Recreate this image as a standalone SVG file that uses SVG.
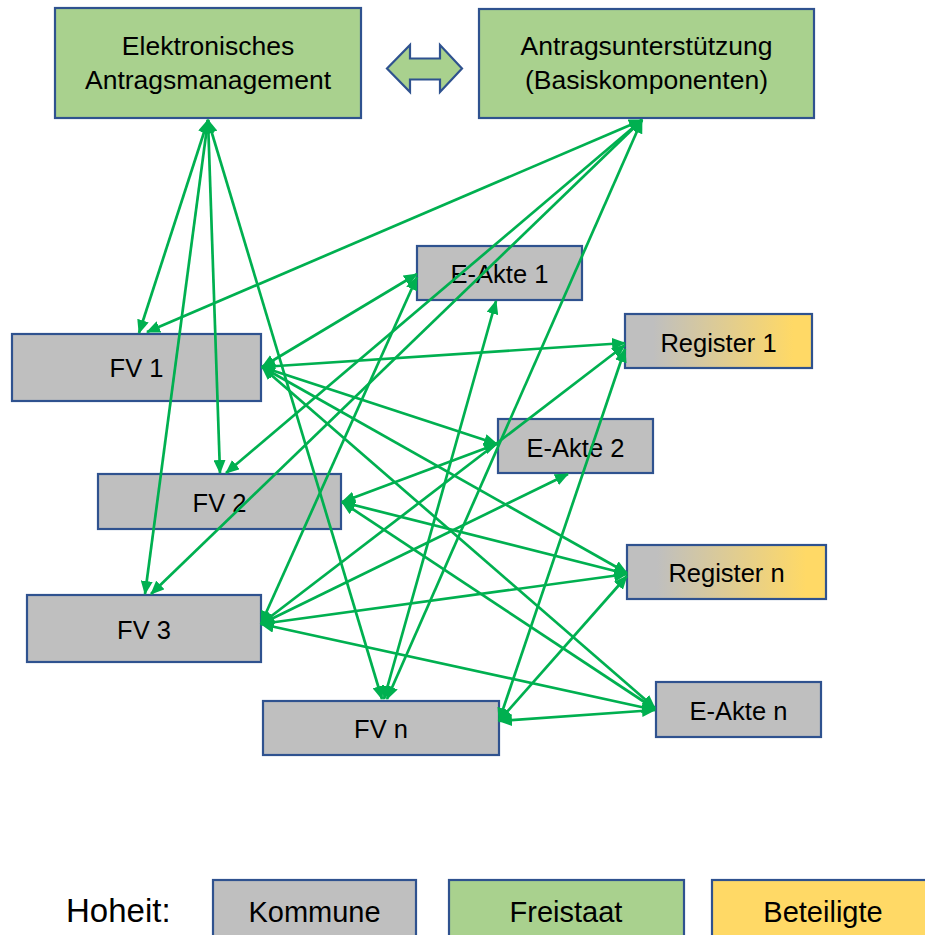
<svg xmlns="http://www.w3.org/2000/svg" width="925" height="935" viewBox="0 0 925 935">
<style>
.n{stroke:#2F528F;stroke-width:2.2}
.g{fill:#BFBFBF}
.gr{fill:#A9D18E}
.y{fill:#FFD966}
.rg{fill:url(#regGrad)}
text{font-family:"Liberation Sans",Arial,sans-serif;fill:#000;text-anchor:middle}
.t{font-size:25.5px}
.tt{font-size:26.5px}
.lg{font-size:29px}
.c line{stroke:#00B050;stroke-width:2.7;marker-start:url(#ah);marker-end:url(#ah)}
</style>
<defs>
<linearGradient id="regGrad" x1="0" y1="0" x2="1" y2="0">
<stop offset="0" stop-color="#BFBFBF"/>
<stop offset="0.15" stop-color="#BFBFBF"/>
<stop offset="0.9" stop-color="#FFD966"/>
<stop offset="1" stop-color="#FFD966"/>
</linearGradient>
<marker id="ah" viewBox="0 0 14 12" refX="13" refY="6" markerWidth="14" markerHeight="12" markerUnits="userSpaceOnUse" orient="auto-start-reverse">
<path d="M0,0 L14,6 L0,12 z" fill="#00B050"/>
</marker>
</defs>
<rect width="925" height="935" fill="#fff"/>

<g id="eam">
<rect class="n gr" x="55" y="8" width="306" height="110"/>
<text class="tt" x="208" y="55">Elektronisches</text>
<text class="tt" x="208" y="89">Antragsmanagement</text>
</g>
<g id="link-arrow">
<path class="n gr" d="M387,68.5 L410,45 L410,58.5 L440,58.5 L440,45 L462,68.5 L440,92 L440,79.5 L410,79.5 L410,92 Z"/>
</g>
<g id="au">
<rect class="n gr" x="479" y="9" width="335" height="109"/>
<text class="tt" x="646.5" y="55">Antragsunterstützung</text>
<text class="tt" x="646.5" y="89">(Basiskomponenten)</text>
</g>
<g id="eakte1">
<rect class="n g" x="417" y="246" width="165" height="54"/>
<text class="t" x="499.5" y="283">E-Akte 1</text>
</g>
<g id="register1">
<rect class="n rg" x="625" y="314" width="187" height="54"/>
<text class="t" x="718.5" y="352">Register 1</text>
</g>
<g id="fv1">
<rect class="n g" x="12" y="334" width="249" height="67"/>
<text class="t" x="136.5" y="377">FV 1</text>
</g>
<g id="eakte2">
<rect class="n g" x="498" y="419" width="155" height="54"/>
<text class="t" x="575.5" y="457">E-Akte 2</text>
</g>
<g id="fv2">
<rect class="n g" x="98" y="474" width="243" height="55"/>
<text class="t" x="219.5" y="512">FV 2</text>
</g>
<g id="registern">
<rect class="n rg" x="627" y="545" width="199" height="54"/>
<text class="t" x="726.5" y="582">Register n</text>
</g>
<g id="fv3">
<rect class="n g" x="27" y="595" width="234" height="67"/>
<text class="t" x="144" y="639">FV 3</text>
</g>
<g id="eakten">
<rect class="n g" x="656" y="682" width="165" height="55"/>
<text class="t" x="738.5" y="720">E-Akte n</text>
</g>
<g id="fvn">
<rect class="n g" x="263" y="701" width="236" height="54"/>
<text class="t" x="381" y="738">FV n</text>
</g>

<g id="connectors" class="c">
<line x1="208" y1="120" x2="139" y2="333"/>
<line x1="208" y1="120" x2="220" y2="473"/>
<line x1="208" y1="120" x2="145" y2="594"/>
<line x1="208" y1="120" x2="382" y2="699"/>
<line x1="642" y1="120" x2="147" y2="332"/>
<line x1="642" y1="120" x2="226" y2="473"/>
<line x1="642" y1="120" x2="151" y2="594"/>
<line x1="642" y1="120" x2="387" y2="699"/>
<line x1="262" y1="367" x2="417" y2="274"/>
<line x1="262" y1="367" x2="625" y2="343"/>
<line x1="262" y1="367" x2="497" y2="444"/>
<line x1="262" y1="367" x2="627" y2="573"/>
<line x1="262" y1="367" x2="655" y2="708"/>
<line x1="342" y1="502" x2="497" y2="444"/>
<line x1="342" y1="502" x2="627" y2="574"/>
<line x1="342" y1="502" x2="655" y2="709"/>
<line x1="261" y1="624" x2="417" y2="277"/>
<line x1="261" y1="624" x2="625" y2="345"/>
<line x1="261" y1="624" x2="568" y2="474"/>
<line x1="261" y1="624" x2="627" y2="574"/>
<line x1="261" y1="624" x2="655" y2="710"/>
<line x1="499" y1="721" x2="625" y2="349"/>
<line x1="499" y1="721" x2="627" y2="576"/>
<line x1="499" y1="721" x2="655" y2="710"/>
<line x1="496" y1="301" x2="384" y2="699"/>
</g>

<g id="legend">
<text x="66" y="922" style="font-size:33px;text-anchor:start">Hoheit:</text>
<g id="legend-kommune">
<rect class="n g" x="213" y="880" width="203" height="70"/>
<text class="lg" x="314.5" y="922">Kommune</text>
</g>
<g id="legend-freistaat">
<rect class="n gr" x="449" y="880" width="235" height="70"/>
<text class="lg" x="566" y="922">Freistaat</text>
</g>
<g id="legend-beteiligte">
<rect class="n y" x="712" y="880" width="230" height="70"/>
<text class="lg" x="823" y="922">Beteiligte</text>
</g>
</g>
</svg>
